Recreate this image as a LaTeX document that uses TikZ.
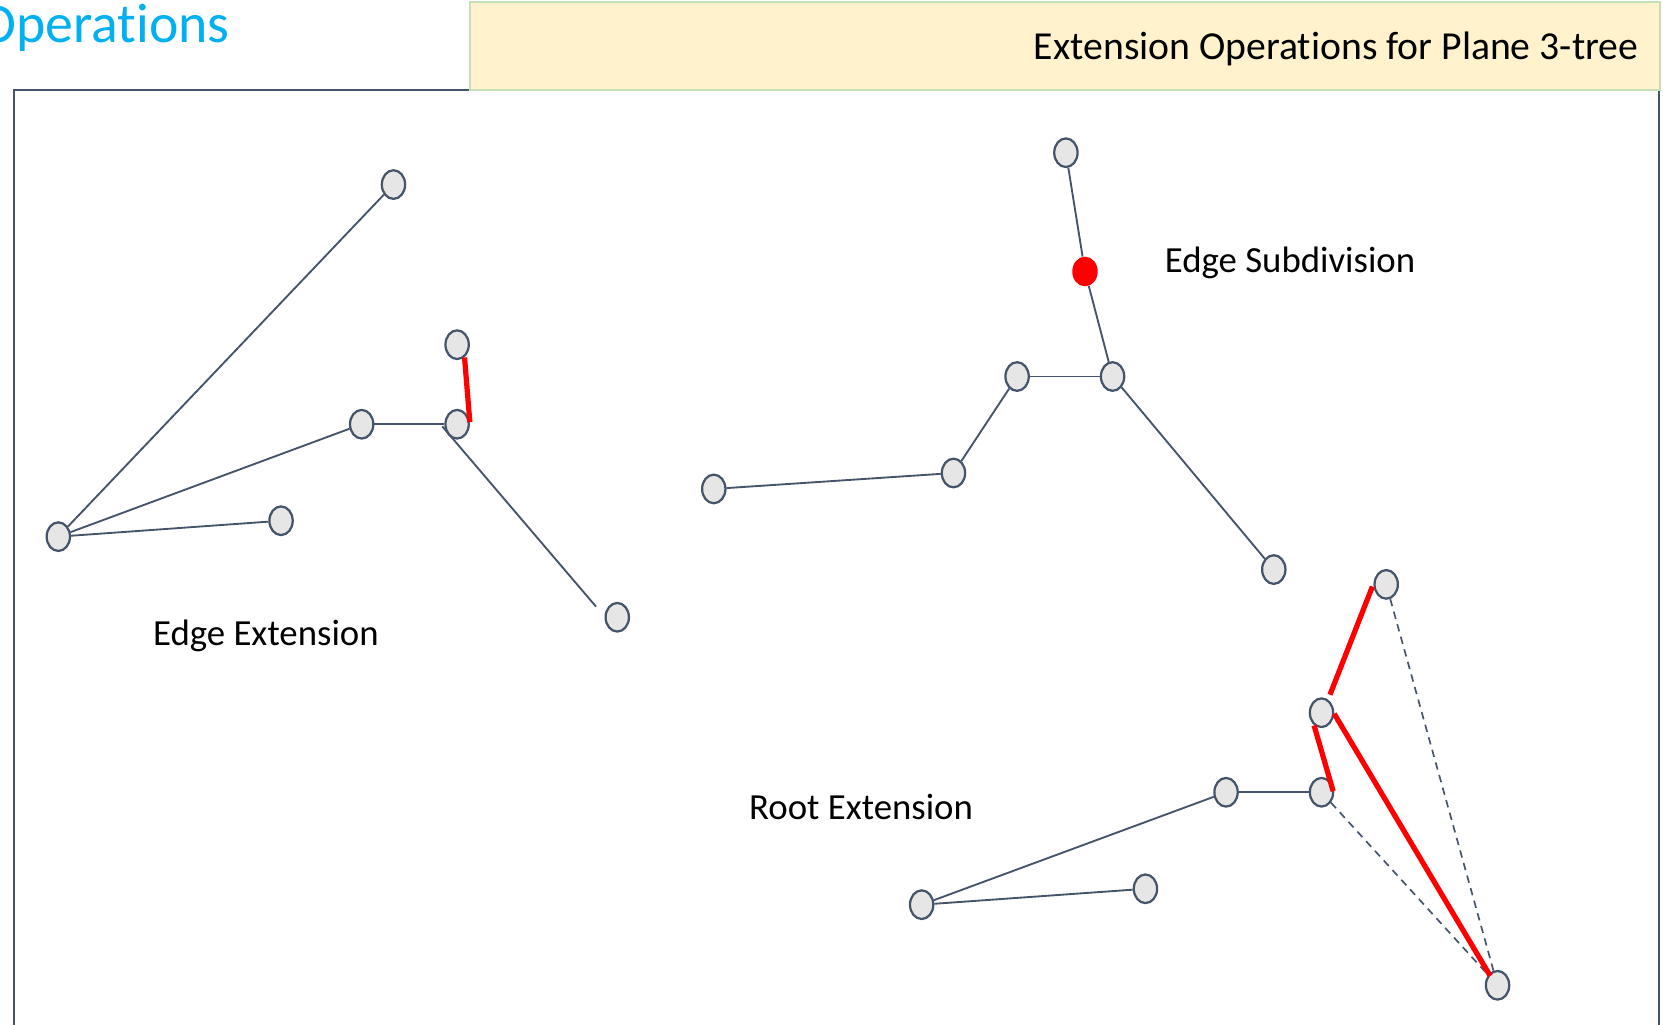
\documentclass[tikz,border=0pt]{standalone}
\usepackage{fontspec}
\setmainfont{Carlito}[Ligatures={CommonOff,ContextualOff,RareOff}]
\usetikzlibrary{shapes.geometric,calc,backgrounds}
\definecolor{slate}{HTML}{44546A}
\definecolor{vertexfill}{HTML}{E7E6E6}
\definecolor{titlecyan}{HTML}{00B0F0}
\definecolor{bannerfill}{HTML}{FFF2CC}
\definecolor{bannerline}{HTML}{C5E0B4}
\definecolor{hot}{HTML}{FF0000}
\tikzset{
  vertex/.style={ellipse, draw=slate, fill=vertexfill, line width=1.2pt,
    minimum width=0.44cm, minimum height=0.54cm, inner sep=0pt},
  newvertex/.style={ellipse, fill=hot, draw=none,
    minimum width=0.48cm, minimum height=0.56cm, inner sep=0pt},
  edge/.style={draw=slate, line width=1pt},
  dashedge/.style={draw=slate, line width=0.9pt, dashed, dash pattern=on 4pt off 3pt},
  hotedge/.style={draw=hot, line width=2.8pt},
  lbl/.style={inner sep=0pt, font=\fontsize{19.75}{24}\selectfont},
}
\begin{document}
\begin{tikzpicture}[x=0.02cm, y=-0.02cm]
\useasboundingbox (0,0) rectangle (1568,966);

% heading and banner
\node[inner sep=0pt, anchor=base east, text=titlecyan,
      font=\fontsize{29.9}{36}\selectfont] (heading) at (217,40) {Operations};
\draw[slate, line width=1pt] (13,990) -- (13,85) -- (1564,85) -- (1564,990);
\draw[fill=bannerfill, draw=bannerline, line width=1pt] (443,2) rectangle (1565,85);
\node[inner sep=0pt, anchor=base east, font=\fontsize{21.3}{26}\selectfont]
  (banner) at (1545,56) {Extension Operations for Plane 3-tree};

% labels
\node[lbl, anchor=base west] (lblext) at (144,609) {Edge Extension};
\node[lbl, anchor=base west] (lblsub) at (1098,257) {Edge Subdivision};
\node[lbl, anchor=base west] (lblroot) at (706,773) {Root Extension};

% edge extension
\node[vertex] (A) at (371,174) {};
\node[vertex] (B) at (431,325) {};
\node[vertex] (C) at (341,400) {};
\node[vertex] (D) at (431,400) {};
\node[vertex] (E) at (55,506) {};
\node[vertex] (F) at (265,491) {};
\node[vertex] (G) at (582,582) {};
\coordinate (gStart) at (417,402);
\coordinate (gEnd) at (562,572);

% edge subdivision
\node[vertex] (H) at (1005,144) {};
\node[newvertex] (R) at (1023,256) {};
\node[vertex] (I) at (959,355) {};
\node[vertex] (J) at (1049,355) {};
\node[vertex] (K) at (673,461) {};
\node[vertex] (L) at (899,446) {};
\node[vertex] (M) at (1201,537) {};

% root extension
\node[vertex] (N) at (1307,551) {};
\node[vertex] (O) at (1246,672) {};
\node[vertex] (P) at (1156,747) {};
\node[vertex] (Q) at (1246,747) {};
\node[vertex] (S) at (869,853) {};
\node[vertex] (T) at (1080,838) {};
\node[vertex] (U) at (1412,929) {};

\begin{pgfonlayer}{background}
  \draw[edge] (E) -- (A);
  \draw[edge] (E) -- (C);
  \draw[edge] (E) -- (F);
  \draw[edge] (C) -- (D);
  \draw[edge] (gStart) -- (gEnd);

  \draw[edge] (H) -- (R);
  \draw[edge] (R) -- (J);
  \draw[edge] (I) -- (J);
  \draw[edge] (I) -- (L);
  \draw[edge] (L) -- (K);
  \draw[edge] (J) -- (M);

  \draw[edge] (S) -- (P);
  \draw[edge] (S) -- (T);
  \draw[edge] (P) -- (Q);
  \draw[dashedge] (Q) -- (U);
  \draw[dashedge] (N) -- (U);
\end{pgfonlayer}

% new edges
\draw[hotedge] ($(B)+(7,12)$) -- ($(D)+(12,-2)$);
\draw[hotedge] ($(N)+(-13,2)$) -- ($(O)+(8,-17)$);
\draw[hotedge] ($(O)+(-7,12)$) -- ($(Q)+(11,-1)$);
\draw[hotedge] ($(O)+(12,1)$) -- ($(U)+(-7,-9)$);
\end{tikzpicture}
\end{document}
